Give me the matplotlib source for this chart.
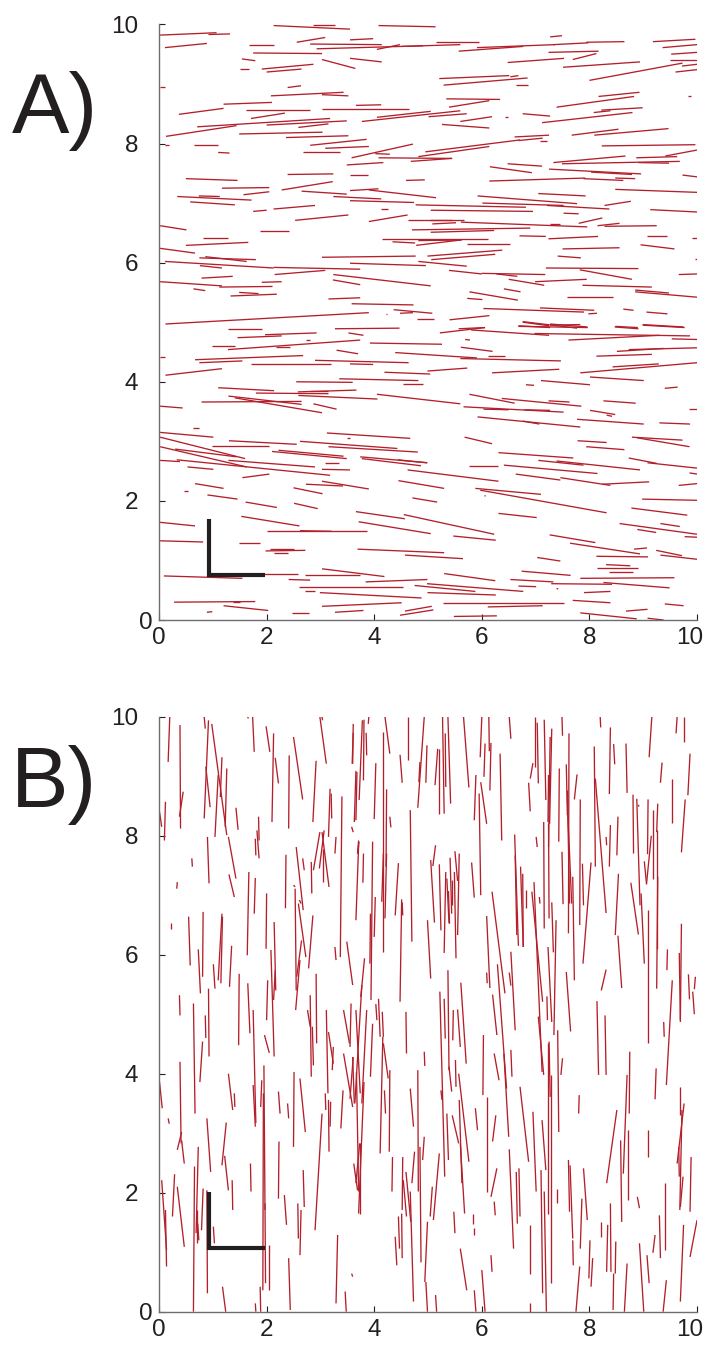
import matplotlib
matplotlib.use("Agg")
import matplotlib.pyplot as plt
from matplotlib.collections import LineCollection
from matplotlib.transforms import ScaledTranslation
import numpy as np

plt.rcParams['font.family'] = ['Liberation Sans', 'DejaVu Sans']

# ---------------- Panel A: near-horizontal segments (x0, y0, x1, y1) ----------------
a_top_left = [
    (0.02,9.82,1.07,9.86),(0.92,9.83,1.32,9.84),(0.11,9.61,0.89,9.68),(2.13,9.98,3.55,9.92),
    (2.87,9.99,3.27,9.99),(1.68,9.66,2.13,9.66),(2.56,9.70,3.09,9.78),(2.81,9.67,4.14,9.66),
    (2.93,9.59,4.91,9.64),(1.75,9.52,3.03,9.51),(1.54,9.42,1.79,9.39),(3.03,9.41,3.65,9.26),
    (1.51,9.25,1.68,9.25),(1.91,9.25,2.87,9.33),(2.00,9.20,2.65,9.25),(0.02,8.95,0.12,8.95),
    (2.39,8.94,2.64,8.97),(2.08,8.80,3.43,8.86),(3.03,8.82,3.52,8.80),(1.20,8.66,2.10,8.69),
    (0.37,8.49,1.20,8.59),(1.62,8.56,2.81,8.56),(3.03,8.58,4.64,8.58),(1.71,8.42,2.34,8.51),
    (0.71,8.28,3.18,8.42),(2.00,8.31,3.49,8.38),(2.59,8.27,3.15,8.33),(0.13,8.12,1.44,8.30),
    (1.49,8.16,3.04,8.19),(2.36,8.10,3.52,8.13),(0.11,7.97,0.19,7.97),(0.65,7.98,1.10,7.98),
    (1.10,7.85,1.31,7.84),(2.81,7.97,3.86,8.07),(3.09,7.92,3.90,7.95),(2.68,7.86,3.37,7.86),
    (3.49,7.64,4.17,7.68),(0.50,7.41,1.46,7.38),(2.39,7.48,3.24,7.49),(1.17,7.25,2.05,7.26),
    (2.28,7.22,3.23,7.36),(0.34,7.11,1.72,7.05),(0.74,7.12,1.13,7.11),(0.58,7.02,1.41,6.97),
    (1.57,7.14,2.05,7.19),(2.65,7.20,3.49,7.15),(3.24,7.11,4.13,7.07),(1.75,6.86,2.00,6.88),
    (2.13,6.90,2.90,6.96),(2.53,6.71,3.52,6.80),(0.02,6.62,0.51,6.55),(1.87,6.53,2.42,6.53),
    (0.81,6.42,1.28,6.42),(0.50,6.29,1.66,6.34),(0.02,6.24,0.67,6.16),(0.75,6.08,1.80,6.05),
    (0.86,6.10,1.63,6.02),(3.03,6.09,4.77,6.11),(0.11,6.02,2.13,5.91),(0.76,5.95,1.17,5.91),
    (2.13,5.92,3.74,5.89),(2.15,5.80,3.09,5.87),(0.79,5.74,1.37,5.77),(3.24,5.80,5.05,5.61),
    (0.02,5.68,1.17,5.61),(3.23,5.71,3.74,5.63),(0.64,5.56,0.86,5.53),(1.12,5.59,2.11,5.60),
    (1.91,5.67,2.28,5.68),(1.33,5.44,2.19,5.47),(1.49,5.50,1.85,5.48),(3.15,5.39,3.74,5.41),
    (3.58,5.31,4.73,5.29),(0.12,4.97,3.90,5.16),(1.29,4.89,1.91,4.89),
]
a_top_right = [
    (4.08,9.98,5.14,9.96),(3.55,9.74,3.98,9.76),(4.05,9.58,4.48,9.66),(4.51,9.63,5.60,9.66),
    (5.15,9.70,5.95,9.70),(7.27,9.79,7.49,9.81),(5.91,9.61,7.36,9.66),(5.57,9.55,6.77,9.63),
    (7.33,9.66,7.98,9.69),(7.94,9.70,8.65,9.71),(9.18,9.71,9.97,9.75),(9.36,9.61,10.0,9.66),
    (7.24,9.53,8.17,9.55),(7.69,9.41,8.13,9.51),(9.52,9.50,10.0,9.53),(9.50,9.40,10.0,9.40),
    (3.55,9.43,4.14,9.37),(6.48,9.36,7.53,9.43),(7.51,9.28,8.94,9.37),(8.00,9.06,9.73,9.35),
    (9.72,9.30,10.0,9.33),(9.60,9.20,10.0,9.24),(5.21,9.09,6.51,9.14),(6.53,9.12,6.68,9.14),
    (5.29,8.98,6.85,9.10),(6.63,8.98,6.85,8.98),(5.34,8.75,6.34,8.74),(3.66,8.64,4.13,8.65),
    (5.39,8.61,6.14,8.72),(8.17,8.79,8.93,8.86),(7.39,8.61,8.83,8.79),(9.84,8.80,9.88,8.80),
    (4.05,8.44,5.05,8.54),(3.77,8.37,5.60,8.55),(5.01,8.45,5.72,8.50),(8.22,8.56,8.99,8.60),
    (8.08,8.52,8.39,8.55),(5.60,8.37,6.19,8.45),(6.43,8.45,6.48,8.45),(6.76,8.50,7.27,8.46),
    (7.12,8.35,8.80,8.52),(5.26,8.32,6.14,8.26),(7.67,8.14,8.54,8.24),(8.09,8.14,9.47,8.25),
    (3.58,7.76,4.72,7.99),(4.95,7.86,6.71,8.06),(4.82,7.78,6.14,7.95),(6.61,8.11,7.25,8.14),
    (6.68,8.05,7.13,8.09),(7.08,8.05,7.21,8.05),(8.23,7.96,9.97,7.98),(4.02,7.83,4.29,7.82),
    (4.08,7.76,5.44,7.75),(4.68,7.70,5.45,7.75),(7.33,7.68,8.67,7.79),(8.87,7.76,9.63,7.78),
    (9.41,7.79,10.0,7.89),(6.48,7.66,7.12,7.62),(7.49,7.66,9.68,7.70),(8.91,7.68,9.48,7.67),
    (6.15,7.61,6.93,7.51),(7.25,7.57,8.96,7.49),(8.03,7.52,8.79,7.48),(3.55,7.47,3.88,7.47),
    (9.73,7.47,10.0,7.44),(4.59,7.38,4.94,7.39),(6.14,7.37,7.92,7.42),(7.89,7.41,8.63,7.38),
    (8.48,7.42,8.85,7.41),(3.55,7.21,4.08,7.24),(3.90,7.22,5.15,7.09),(8.48,7.23,10.0,7.18),
    (7.05,7.16,7.93,7.12),(3.55,7.04,4.74,7.01),(5.92,7.12,7.77,6.99),(6.01,7.00,7.52,6.96),
    (4.77,6.97,6.82,6.93),(7.21,6.96,8.37,6.90),(8.28,6.96,8.77,7.03),(5.05,6.88,6.95,6.86),
    (4.13,6.90,4.26,6.90),(9.13,6.89,10.0,6.85),(7.52,6.83,7.80,6.82),(3.90,6.69,4.62,6.80),
    (4.62,6.71,5.66,6.71),(5.04,6.72,5.44,6.72),(5.08,6.65,5.52,6.67),(5.61,6.68,7.96,6.60),
    (7.27,6.65,7.46,6.65),(7.80,6.66,8.24,6.75),(8.15,6.62,8.56,6.66),(8.28,6.61,9.25,6.62),
    (4.70,6.55,6.90,6.58),(5.05,6.51,6.23,6.54),(6.70,6.45,7.19,6.44),(4.15,6.40,6.11,6.40),
    (4.34,6.35,4.76,6.33),(4.78,6.29,5.61,6.38),(4.82,6.37,5.63,6.38),(5.73,6.32,6.53,6.32),
    (7.24,6.40,8.16,6.44),(9.07,6.44,9.45,6.44),(9.91,6.41,10.0,6.41),(7.50,6.23,8.56,6.25),
    (8.95,6.30,9.58,6.23),(4.99,6.11,6.38,6.21),(5.06,6.05,6.25,6.14),(7.41,6.11,7.84,6.08),
    (9.97,6.06,10.0,6.06),(3.55,5.99,4.96,5.95),(4.82,6.02,5.72,5.94),(7.19,5.91,8.91,5.90),
    (5.39,5.87,6.00,5.81),(6.00,5.82,7.18,5.80),(6.27,5.81,6.66,5.77),(7.82,5.88,8.79,5.72),
    (9.66,5.80,10.0,5.81),(6.50,5.72,7.16,5.62),(6.99,5.68,7.95,5.72),(7.87,5.62,9.16,5.59),
    (8.85,5.54,9.48,5.49),(8.85,5.51,10.0,5.42),(5.77,5.51,6.67,5.37),(6.41,5.56,6.72,5.51),
    (5.73,5.40,6.01,5.38),(7.58,5.42,8.44,5.42),(4.36,5.21,5.08,5.15),(4.48,5.15,4.72,5.16),
    (4.22,5.14,4.24,5.14),(4.79,5.06,5.11,5.06),(5.40,5.04,6.14,5.11),(6.03,5.23,7.90,5.17),
    (7.08,5.24,8.09,5.20),(7.98,5.14,8.14,5.15),(8.63,5.22,8.82,5.20),(9.06,5.17,9.45,5.14),
    (3.27,4.89,4.47,4.90),(6.76,5.01,7.77,4.90),(6.68,4.94,7.27,4.91),(7.27,4.97,7.96,4.92),
    (8.48,4.93,8.90,4.91),(8.99,4.96,9.75,4.92),(5.57,4.89,6.06,4.91),
]
a_bottom_left = [
    (1.97,4.79,2.93,4.82),(1.46,4.74,2.28,4.77),(2.73,4.70,2.81,4.70),(3.52,4.82,3.80,4.78),
    (0.99,4.60,1.41,4.60),(1.28,4.54,3.74,4.70),(2.18,4.58,2.44,4.58),(0.02,4.42,0.11,4.42),
    (0.67,4.37,2.68,4.44),(0.75,4.32,1.55,4.35),(1.71,4.30,3.20,4.30),(2.90,4.36,4.64,4.32),
    (3.30,4.53,3.70,4.47),(0.12,4.11,1.17,4.22),(2.55,4.00,3.60,3.99),(3.35,4.05,4.82,4.02),
    (1.10,3.90,2.14,3.85),(1.80,3.81,3.15,3.80),(2.58,3.83,3.67,3.86),(2.81,3.85,3.15,3.85),
    (2.59,3.77,4.06,3.71),(0.79,3.66,2.65,3.67),(1.29,3.76,2.65,3.62),(1.41,3.73,3.03,3.48),
    (2.87,3.63,3.30,3.54),(0.02,3.59,0.44,3.56),(0.64,3.23,0.74,3.23),(0.02,3.15,1.01,3.07),
    (0.02,3.07,1.60,2.71),(0.02,2.91,1.63,2.57),(1.30,3.01,2.56,2.95),(0.99,2.92,2.05,2.92),
    (0.30,2.87,1.44,2.74),(3.12,3.14,4.67,3.05),(2.62,3.00,4.43,2.88),(3.15,2.91,4.81,2.82),
    (3.49,3.05,3.55,3.05),(2.10,2.83,3.49,2.71),(2.22,2.85,3.43,2.75),(1.29,2.68,2.90,2.57),
    (0.02,2.68,0.39,2.66),(0.33,2.69,3.18,2.43),(3.09,2.64,3.34,2.64),(0.53,2.57,1.01,2.53),
    (3.03,2.53,3.55,2.52),(1.55,2.39,2.05,2.45),(3.03,2.33,3.90,2.20),(0.67,2.29,1.20,2.21),
    (2.73,2.28,3.42,2.25),(0.47,2.16,0.53,2.16),(2.50,2.22,3.04,2.12),(0.90,2.10,1.46,2.03),
    (1.61,1.98,2.19,1.89),(2.51,1.96,2.95,1.87),(0.02,1.64,0.67,1.58),(1.53,1.74,2.61,1.58),
    (2.00,1.49,3.87,1.49),(2.62,1.50,3.21,1.49),(0.02,1.33,0.82,1.31),(1.49,1.29,1.87,1.29),
    (1.98,1.16,2.72,1.17),(2.06,1.19,2.50,1.19),(2.14,1.12,2.39,1.12),(0.09,0.74,1.55,0.70),
    (1.94,0.77,2.59,0.77),(3.03,0.86,4.19,0.73),(2.72,0.75,3.74,0.75),(2.41,0.68,2.81,0.67),
    (2.61,0.56,4.54,0.56),(2.72,0.48,2.90,0.48),(2.99,0.46,4.88,0.37),(0.28,0.30,1.79,0.31),
    (1.20,0.24,2.03,0.16),(1.38,0.30,1.51,0.30),(0.89,0.13,0.99,0.14),(2.47,0.11,2.78,0.11),
    (3.03,0.23,4.51,0.29),(3.27,0.13,3.80,0.16),
]
a_bottom_right = [
    (5.22,4.82,6.06,4.91),(5.80,4.87,7.25,4.78),(6.76,5.00,7.25,4.94),(6.68,4.93,7.97,4.91),
    (7.27,4.95,7.83,4.96),(8.47,4.92,8.91,4.89),(8.99,4.95,9.77,4.91),(6.98,4.81,9.87,4.77),
    (7.61,4.70,9.30,4.78),(9.53,4.72,10.0,4.71),(3.92,4.65,5.26,4.63),(5.69,4.71,5.78,4.70),
    (5.61,4.58,6.20,4.51),(8.51,4.51,9.38,4.56),(8.73,4.54,10.0,4.57),(4.39,4.49,5.91,4.40),
    (5.60,4.39,7.47,4.35),(6.12,4.44,6.43,4.44),(8.13,4.43,9.16,4.46),(3.55,4.30,3.98,4.29),
    (4.19,4.16,5.04,4.13),(4.99,4.18,5.73,4.23),(6.19,4.15,7.44,4.21),(7.83,4.15,10.0,4.32),
    (8.43,4.25,9.29,4.30),(4.53,3.96,4.90,3.96),(7.10,4.02,8.01,3.95),(8.01,4.08,9.01,4.02),
    (6.82,3.95,6.97,3.94),(9.40,3.89,9.64,3.91),(4.05,3.79,5.60,3.63),(5.77,3.79,6.61,3.64),
    (6.37,3.72,7.85,3.59),(7.24,3.68,7.63,3.66),(8.26,3.68,8.86,3.64),(5.66,3.58,7.52,3.49),
    (6.03,3.54,6.50,3.53),(6.79,3.53,7.27,3.52),(8.01,3.52,8.48,3.45),(8.32,3.44,8.42,3.42),
    (9.86,3.55,10.0,3.55),(5.92,3.41,7.83,3.24),(6.76,3.34,7.07,3.29),(7.77,3.37,9.01,3.29),
    (9.30,3.31,9.87,3.29),(5.68,3.07,6.19,2.96),(7.78,3.01,8.32,2.98),(8.79,3.07,9.73,3.02),
    (8.88,3.06,9.86,2.91),(7.94,2.91,8.65,2.86),(3.74,2.74,4.99,2.64),(3.77,2.71,4.87,2.59),
    (4.44,2.69,4.98,2.64),(6.31,2.81,7.70,2.72),(5.77,2.59,6.31,2.59),(6.41,2.60,8.15,2.46),
    (7.05,2.68,7.89,2.60),(7.39,2.67,8.94,2.52),(8.73,2.72,9.25,2.63),(9.08,2.64,10.0,2.55),
    (9.86,2.47,10.0,2.45),(4.62,2.52,6.31,2.33),(6.63,2.45,7.46,2.35),(7.46,2.39,8.39,2.26),
    (8.24,2.28,9.11,2.32),(4.45,2.34,5.30,2.21),(9.66,2.26,10.0,2.29),(5.88,2.21,7.10,2.11),
    (5.97,2.18,8.32,1.80),(6.05,2.09,6.07,2.08),(4.71,2.05,5.17,1.98),(8.98,2.03,10.0,2.01),
    (3.66,1.82,4.57,1.70),(4.55,1.77,6.23,1.44),(6.31,1.79,7.02,1.72),(8.78,1.88,9.82,1.76),
    (3.71,1.65,5.05,1.45),(5.47,1.41,6.26,1.34),(7.26,1.43,8.11,1.30),(8.56,1.62,10.0,1.44),
    (9.32,1.62,9.68,1.57),(8.89,1.52,9.24,1.47),(9.77,1.40,10.0,1.39),(7.64,1.29,8.94,1.11),
    (8.83,1.19,9.07,1.21),(9.24,1.17,9.72,1.08),(9.32,1.09,10.0,1.02),(3.69,1.19,5.30,1.13),
    (4.57,1.09,5.65,1.03),(8.13,1.07,9.09,1.06),(7.03,1.05,7.46,0.99),(8.14,0.88,8.91,0.88),
    (8.31,0.93,8.76,0.91),(8.36,0.81,8.81,0.81),(5.30,0.78,6.25,0.66),(6.74,0.82,7.65,0.75),
    (7.83,0.70,9.58,0.71),(3.84,0.64,4.99,0.68),(6.53,0.68,7.33,0.64),(4.75,0.58,5.88,0.48),
    (4.98,0.61,6.77,0.48),(6.68,0.57,7.01,0.56),(7.29,0.61,8.42,0.60),(8.26,0.63,9.49,0.54),
    (7.39,0.53,7.42,0.52),(4.99,0.46,6.26,0.42),(7.90,0.46,8.39,0.48),(4.57,0.15,5.07,0.23),
    (4.48,0.08,5.10,0.17),(5.27,0.29,7.52,0.29),(6.11,0.22,7.13,0.24),(7.69,0.33,8.39,0.29),
    (8.68,0.15,9.08,0.18),(9.40,0.27,9.75,0.24),(5.48,0.06,6.28,0.07),(7.83,0.12,8.88,0.02),
    (9.08,0.03,9.38,0.00),
]

# ---------------- Panel B: near-vertical segments (x0, y0, x1, y1) ----------------
b_top_left = [
    (0.01,8.40,0.05,8.15),(0.12,8.57,0.10,7.92),(0.20,10.0,0.17,9.24),(0.39,9.86,0.40,8.12),
    (0.45,8.74,0.38,8.32),(0.84,10.0,0.86,9.80),(0.92,9.94,0.84,8.29),(0.87,9.16,0.95,8.48),
    (0.98,9.88,1.26,8.01),(1.17,9.32,1.14,8.65),(1.10,9.02,1.04,7.98),(1.26,9.13,1.23,8.15),
    (1.43,8.47,1.47,8.10),(1.29,7.98,1.43,7.28),(0.90,7.98,0.93,7.20),(0.61,7.62,0.62,7.48),
    (0.34,7.22,0.33,7.11),(1.30,7.35,1.40,6.97),(1.65,10.0,1.66,9.97),(1.74,10.0,1.77,9.41),
    (1.99,9.84,2.06,9.41),(2.13,9.72,2.10,8.23),(2.16,9.31,2.22,8.88),(1.85,8.32,1.86,7.92),
    (1.79,7.95,1.80,7.67),(1.82,8.09,1.86,7.62),(2.42,9.35,2.41,8.12),(2.50,9.66,2.67,8.61),
    (2.99,10.0,3.11,9.21),(3.03,10.0,3.04,9.94),(2.92,9.26,2.86,8.23),(3.18,8.79,3.15,7.98),
    (3.20,8.71,3.21,8.29),(3.07,8.09,2.98,7.45),(3.03,8.06,3.16,7.14),(3.04,7.78,3.04,7.22),
    (3.29,7.98,3.27,7.70),(3.40,8.66,3.37,5.96),(3.61,9.88,3.60,9.21),(3.68,9.07,3.66,8.26),
    (3.71,7.92,3.69,7.70),(3.58,8.15,3.61,8.06),(3.49,6.22,3.60,5.49),(2.55,7.81,2.68,6.75),
    (2.67,7.62,2.70,7.42),(2.83,7.56,2.84,7.03),(2.87,7.42,2.99,8.06),(2.36,7.68,2.35,6.78),
    (2.50,7.17,2.53,7.14),(2.53,7.11,2.55,5.40),(2.61,6.92,2.64,6.86),(2.59,6.86,2.73,5.96),
    (2.65,6.24,2.56,5.63),(2.86,6.66,2.78,5.77),(2.62,5.91,2.54,5.07),(1.79,7.29,1.77,6.69),
    (1.67,7.39,1.64,5.99),(2.00,7.03,1.99,6.10),(2.08,6.08,2.14,4.29),(2.14,6.55,2.17,5.40),
    (2.16,5.74,2.13,5.24),(2.02,5.57,2.00,4.90),(1.65,5.52,1.69,4.68),(1.49,5.68,1.48,4.48),
    (1.17,6.69,1.10,5.57),(1.18,6.64,1.15,5.52),(1.35,6.15,1.31,5.46),(1.01,5.84,1.04,5.43),
    (0.82,6.72,0.81,5.63),(0.55,6.64,0.58,5.82),(0.73,6.09,0.77,5.35),(0.22,6.54,0.22,6.44),
    (0.92,5.43,0.93,4.29),(0.86,4.98,0.87,4.60),(0.38,5.32,0.39,4.98),(0.64,5.18,0.67,3.33),
    (2.92,5.68,2.93,4.51),(2.81,5.32,2.83,3.95),(3.11,5.07,3.14,3.67),(3.27,6.13,3.29,5.91),
    (3.43,5.07,3.54,4.51),(3.57,5.18,3.55,4.45),
]
b_bottom_left = [
    (0.01,3.86,0.06,3.42),(0.17,3.25,0.19,3.16),(0.39,4.20,0.41,2.83),(0.34,2.72,0.42,3.02),
    (0.42,2.88,0.47,2.49),(0.05,2.21,0.14,1.04),(0.12,1.71,0.14,0.76),(0.29,2.31,0.25,1.60),
    (0.34,2.10,0.47,1.09),(0.81,4.54,0.76,3.86),(0.89,3.25,0.96,2.35),(0.66,2.44,0.64,0.00),
    (0.73,2.77,0.69,1.32),(0.70,1.71,0.70,1.15),(0.82,2.07,0.79,1.37),(0.72,1.48,0.74,1.20),
    (0.89,2.04,0.90,0.31),(1.01,1.43,1.03,1.15),(1.18,0.42,1.24,0.00),(1.17,2.46,1.25,3.18),
    (1.22,2.62,1.29,2.04),(1.29,4.00,1.37,3.39),(1.36,2.21,1.37,1.71),(1.40,3.67,1.41,3.44),
    (1.75,5.07,1.80,3.17),(1.75,3.81,1.79,3.11),(1.95,4.14,1.97,1.71),(1.91,3.89,1.89,3.44),
    (1.94,3.67,1.93,0.36),(1.97,1.82,1.98,0.48),(1.88,0.42,1.89,0.00),(1.79,0.14,1.80,0.00),
    (2.05,1.12,2.05,0.36),(1.70,2.49,1.71,2.02),(1.96,4.65,2.05,4.35),(2.22,3.70,2.25,3.33),
    (2.39,3.50,2.41,3.25),(2.23,2.86,2.22,1.90),(2.33,1.96,2.37,1.46),(2.41,0.90,2.44,0.03),
    (2.51,4.03,2.50,2.77),(2.62,3.92,2.72,3.02),(2.58,1.82,2.59,1.23),(2.64,1.71,2.62,0.95),
    (2.68,2.38,2.70,1.76),(2.90,1.37,3.03,3.33),(3.15,3.56,3.16,2.69),(3.09,3.67,3.10,3.39),
    (3.19,3.53,3.18,3.11),(3.24,4.45,3.22,4.06),(3.15,4.70,3.24,4.17),(2.76,5.07,2.81,4.79),
    (2.85,4.79,2.87,4.14),(3.42,3.72,3.38,3.08),(3.43,4.34,3.60,3.44),(3.60,4.28,3.63,3.50),
    (3.66,5.07,3.74,3.67),(3.73,2.83,3.66,2.16),(3.32,1.29,3.29,0.14),(3.46,0.34,3.48,0.00),
    (3.58,0.64,3.60,0.59),
]
b_top_right = [
    (3.61,9.73,3.59,9.21),(3.78,9.94,3.72,8.60),(3.81,9.95,3.80,8.93),(3.85,9.73,3.86,9.35),
    (3.90,10.0,3.89,9.88),(3.66,9.09,3.63,8.23),(4.20,10.0,4.29,9.38),(4.16,9.74,4.16,6.05),
    (4.03,9.22,4.00,8.28),(4.23,8.78,4.22,7.48),(4.29,8.32,4.31,8.14),(4.48,9.36,4.52,8.89),
    (4.62,10.0,4.62,9.28),(4.93,10.0,4.81,8.47),(4.98,9.52,4.96,8.89),(4.85,9.24,4.83,8.90),
    (5.18,9.46,5.13,8.85),(5.21,9.45,5.21,8.37),(5.27,10.0,5.30,8.37),(5.32,9.72,5.33,8.82),
    (5.37,10.0,5.42,8.54),(5.66,10.0,5.76,8.81),(6.00,10.0,5.97,9.32),(6.13,10.0,6.14,9.42),
    (6.06,9.55,6.04,8.99),(6.17,9.56,6.15,8.76),(5.89,9.02,5.86,8.26),(5.98,8.90,6.09,8.20),
    (5.95,8.71,5.98,7.00),(6.34,9.38,6.37,7.92),(6.51,10.0,6.54,9.63),(6.99,10.0,6.99,9.16),
    (7.03,9.90,7.05,8.88),(6.95,9.22,6.90,8.96),(6.87,8.89,6.90,8.41),(7.16,9.95,7.19,8.60),
    (7.30,9.80,7.26,8.20),(7.27,9.66,7.24,7.81),(7.24,9.02,7.23,8.23),(7.15,8.23,7.16,6.44),
    (7.01,7.98,7.03,7.81),(7.24,8.20,7.25,6.61),(7.44,9.13,7.43,7.90),(7.49,10.0,7.50,9.68),
    (7.62,9.72,7.61,6.36),(7.57,9.20,7.59,8.34),(7.59,8.76,7.63,6.86),(7.60,8.34,7.67,6.86),
    (7.77,9.03,7.72,8.61),(7.83,8.61,7.82,6.50),(7.87,7.53,7.89,6.83),(7.49,7.73,7.51,6.85),
    (7.69,7.31,7.72,5.57),(8.03,7.55,7.88,5.85),(8.09,9.50,8.11,7.48),(8.11,8.96,8.31,6.70),
    (8.20,10.0,8.21,9.82),(8.39,9.82,8.37,8.70),(8.45,9.54,8.47,9.20),(8.68,9.55,8.70,8.72),
    (8.39,8.18,8.37,7.48),(8.53,8.32,8.51,7.67),(8.31,7.98,8.32,7.84),(8.81,8.69,8.82,7.70),
    (8.88,8.62,8.94,6.83),(8.91,8.52,8.92,8.49),(9.09,8.61,9.08,7.69),(9.19,8.43,9.19,7.27),
    (9.27,8.54,9.25,8.06),(9.02,7.57,9.06,7.20),(9.15,8.00,9.06,7.18),(9.16,10.0,9.11,9.32),
    (9.35,9.23,9.32,8.89),(9.53,8.95,9.53,8.22),(9.63,10.0,9.61,9.72),(9.75,10.0,9.75,9.58),
    (9.87,9.38,9.83,8.68),(9.78,8.61,9.71,7.72),(8.54,7.36,8.48,6.33),(8.77,7.21,8.91,6.34),
    (8.96,7.03,9.02,5.85),(9.09,6.76,9.09,4.51),(9.25,8.09,9.25,6.10),(9.27,7.31,9.25,5.43),
    (9.45,6.09,9.44,5.74),(9.71,6.52,9.69,4.87),(9.67,6.03,9.69,4.90),(9.54,5.57,9.43,3.81),
    (9.84,5.67,9.86,5.25),(9.97,5.63,9.95,5.42),(9.92,5.38,9.95,5.00),(8.53,6.32,8.60,5.44),
    (8.31,5.75,8.22,5.40),(8.14,5.22,8.17,3.98),(8.29,4.98,8.31,3.98),(7.57,5.71,7.65,4.71),
    (7.38,6.58,7.34,4.65),(7.30,6.88,7.33,6.04),(7.23,6.13,7.30,4.87),(7.21,5.30,7.22,4.90),
    (6.93,7.06,7.13,5.21),(6.97,7.22,7.12,4.03),(6.82,7.08,6.82,6.79),(7.07,6.97,7.08,6.86),
    (6.61,8.02,6.68,6.15),(6.62,7.67,6.65,6.33),(6.72,7.48,6.77,6.13),(6.76,7.36,6.77,6.13),
    (6.54,6.05,6.62,4.73),(6.51,5.70,6.54,5.48),(6.29,5.84,6.46,3.75),(6.19,7.06,6.43,5.35),
    (6.20,5.33,6.28,4.65),(6.09,6.65,6.15,5.44),(6.09,5.70,6.10,5.52),(5.81,7.55,5.86,6.96),
    (5.61,5.53,5.71,4.17),(5.55,5.08,5.60,4.45),(5.50,7.74,5.55,7.24),(5.58,7.70,5.55,6.33),
    (5.49,7.39,5.52,5.94),(5.44,7.25,5.44,6.83),(5.41,7.63,5.44,6.69),(5.35,7.28,5.39,6.53),
    (5.33,7.39,5.30,6.03),(5.38,7.07,5.40,6.52),(5.37,5.74,5.39,4.06),(5.30,5.26,5.32,4.59),
    (5.22,5.38,5.31,2.27),(5.21,7.52,5.24,6.41),(5.05,7.59,5.12,6.54),(5.09,7.49,5.14,7.84),
    (4.99,6.58,5.05,5.60),(4.67,8.43,4.70,6.22),(4.45,7.54,4.39,6.66),(4.51,6.93,4.48,5.21),
    (4.52,6.88,4.53,6.66),(4.59,5.04,4.60,4.34),(4.23,7.70,4.20,6.61),(4.17,7.70,4.14,6.89),
    (3.97,7.90,3.94,5.24),(4.02,6.97,4.00,6.30),(3.93,6.69,3.92,5.85),(3.80,7.70,3.79,7.21),
    (3.71,7.84,3.66,6.58),(3.72,7.90,3.69,7.70),(3.82,5.94,3.75,5.29),(3.77,5.49,3.64,3.50),
    (4.08,5.26,4.11,4.62),(4.03,5.17,4.05,4.90),(4.15,5.04,4.17,4.62),
]
b_bottom_right = [
    (3.55,3.58,3.61,4.28),(3.67,4.03,3.71,2.02),(3.62,2.49,3.69,2.04),(3.74,2.83,3.74,1.65),
    (3.86,5.07,3.77,3.50),(3.81,3.86,3.71,1.65),(3.97,4.84,3.93,3.95),(4.17,4.51,4.26,3.92),
    (4.16,4.62,4.11,2.66),(4.19,3.72,4.21,3.33),(4.29,4.06,4.28,2.69),(4.34,2.60,4.33,2.02),
    (4.53,2.60,4.52,1.71),(4.54,2.21,4.60,1.60),(4.59,2.35,4.68,1.51),(4.67,2.02,4.73,0.17),
    (4.45,1.60,4.47,1.06),(4.39,1.26,4.42,0.78),(4.51,1.65,4.52,0.90),(4.67,3.75,4.73,3.11),
    (4.75,2.69,4.70,2.16),(4.81,4.06,4.82,2.02),(4.85,2.77,4.87,0.83),(4.93,2.94,4.90,2.55),
    (4.93,4.37,4.94,4.13),(4.99,1.51,4.94,0.50),(4.96,0.50,4.99,0.00),(5.08,2.10,5.04,1.60),
    (5.21,2.66,5.10,1.54),(5.14,0.28,5.16,0.00),(5.24,3.72,5.26,3.56),(5.47,5.07,5.46,4.56),
    (5.51,4.23,5.52,3.78),(5.39,4.12,5.44,3.70),(5.45,3.30,5.57,2.83),(5.58,3.56,5.63,2.16),
    (5.57,4.00,5.76,2.52),(5.60,2.83,5.68,1.65),(5.48,1.68,5.50,1.32),(5.35,3.33,5.38,2.55),
    (5.88,3.42,5.92,3.05),(5.83,1.65,5.83,1.48),(5.86,1.40,5.86,1.29),(5.60,1.06,5.72,0.36),
    (6.03,4.65,6.02,3.64),(6.09,3.61,6.09,2.02),(6.23,4.34,6.32,3.89),(6.26,3.30,6.20,2.86),
    (6.28,2.41,6.17,1.93),(6.23,1.85,6.25,1.62),(6.17,0.95,6.19,0.67),(6.00,0.70,6.06,0.00),
    (5.86,0.36,5.89,0.00),(6.41,4.34,6.50,2.94),(6.54,4.40,6.56,3.95),(6.51,2.73,6.59,1.06),
    (6.64,2.35,6.66,1.48),(6.69,2.41,6.71,1.60),(6.71,3.78,6.87,2.52),(6.95,3.36,7.01,2.02),
    (7.05,4.96,7.15,3.98),(7.12,3.22,7.19,2.38),(7.10,2.38,7.13,0.31),(7.16,2.02,7.20,0.00),
    (7.23,4.51,7.23,1.65),(7.25,4.54,7.27,3.61),(7.29,3.98,7.29,0.48),(7.41,4.73,7.43,3.02),
    (7.50,4.26,7.47,3.98),(7.39,2.07,7.39,1.82),(7.61,2.55,7.63,1.68),(7.64,2.46,7.69,1.23),
    (7.86,1.90,7.83,1.06),(7.89,2.41,7.96,1.54),(7.81,3.64,7.80,3.33),(6.90,1.46,6.90,0.64),
    (6.90,0.14,6.90,0.00),(7.69,1.20,7.70,0.78),(7.82,0.76,7.75,0.00),(8.01,1.20,7.99,0.56),
    (8.06,0.90,8.03,0.42),(8.21,1.51,8.21,1.26),(8.51,3.39,8.32,2.16),(8.39,1.82,8.40,0.67),
    (8.34,1.46,8.32,0.67),(8.49,1.18,8.48,0.64),(8.58,2.88,8.60,1.51),(8.70,3.98,8.63,2.32),
    (8.71,3.05,8.71,1.88),(8.75,4.37,8.74,3.33),(8.70,0.81,8.65,0.00),(8.45,0.64,8.44,0.03),
    (8.89,1.93,8.93,1.74),(8.93,1.15,9.01,0.00),(9.09,3.05,9.09,2.60),(9.07,0.95,9.11,0.48),
    (9.24,4.09,9.22,3.57),(9.22,1.29,9.18,0.99),(9.30,1.62,9.32,0.90),(9.38,4.87,9.39,4.62),
    (9.40,2.16,9.40,1.04),(9.43,0.53,9.37,0.00),(9.76,3.50,9.63,2.49),(9.72,3.39,9.68,1.71),
    (9.74,2.27,9.69,1.76),(9.66,2.77,9.67,2.27),(9.69,3.78,9.69,3.30),(9.75,1.46,9.69,0.17),
    (9.89,2.60,9.87,1.68),(10.0,1.54,9.87,0.92),
]

# scale bars (L shapes)
scale_a_x = [0.935, 0.935, 1.97]
scale_a_y = [1.69, 0.75, 0.75]
scale_b_x = [0.935, 0.935, 1.97]
scale_b_y = [2.02, 1.065, 1.065]

ticks = [0, 2, 4, 6, 8, 10]
tick_labels = ['0', '2', '4', '6', '8', '10']
panel_labels = ['A)', 'B)']

SEG_COLOR = '#b3202b'
INK = '#231f20'
SPINE = '#6d6e71'

fig = plt.figure(figsize=(7.07, 13.47), dpi=100)
ax_a = fig.add_axes([0.2249, 0.5397, 0.7610, 0.4422])
ax_b = fig.add_axes([0.2249, 0.0262, 0.7610, 0.4417])


def draw_panel(ax, seg_groups, sx, sy):
    segs = []
    for g in seg_groups:
        for x0, y0, x1, y1 in g:
            segs.append([(x0, y0), (x1, y1)])
    lc = LineCollection(segs, colors=SEG_COLOR, linewidths=0.95, capstyle='butt')
    ax.add_collection(lc)
    ax.plot(sx, sy, color=INK, lw=3.0, solid_joinstyle='miter', solid_capstyle='butt')
    ax.set_xlim(0, 10)
    ax.set_ylim(0, 10)
    for side in ['top', 'right']:
        ax.spines[side].set_visible(False)
    for side in ['left', 'bottom']:
        ax.spines[side].set_color(SPINE)
        ax.spines[side].set_linewidth(1.0)
    ax.set_xticks(ticks)
    ax.set_xticklabels(tick_labels)
    ax.set_yticks(ticks)
    ax.set_yticklabels(tick_labels)
    ax.tick_params(direction='in', length=4, width=0.8, color=INK,
                   labelsize=17.5, labelcolor=INK)
    ax.tick_params(axis='y', pad=15)
    ax.tick_params(axis='x', pad=5)
    # last x label pulled slightly left, first y label pushed toward the axis (as in reference)
    xl = ax.get_xticklabels()[-1]
    xl.set_transform(xl.get_transform() + ScaledTranslation(-0.07, 0, fig.dpi_scale_trans))
    yl = ax.get_yticklabels()[0]
    yl.set_transform(yl.get_transform() + ScaledTranslation(0.14, 0, fig.dpi_scale_trans))


draw_panel(ax_a, [a_top_left, a_top_right, a_bottom_left, a_bottom_right], scale_a_x, scale_a_y)
draw_panel(ax_b, [b_top_left, b_bottom_left, b_top_right, b_bottom_right], scale_b_x, scale_b_y)

fig.text(0.017, 1 - 133 / 1347, panel_labels[0], fontsize=62, color=INK, va='baseline', ha='left')
fig.text(0.016, 1 - 807 / 1347, panel_labels[1], fontsize=62, color=INK, va='baseline', ha='left')

fig.savefig('out.png', dpi=100)
